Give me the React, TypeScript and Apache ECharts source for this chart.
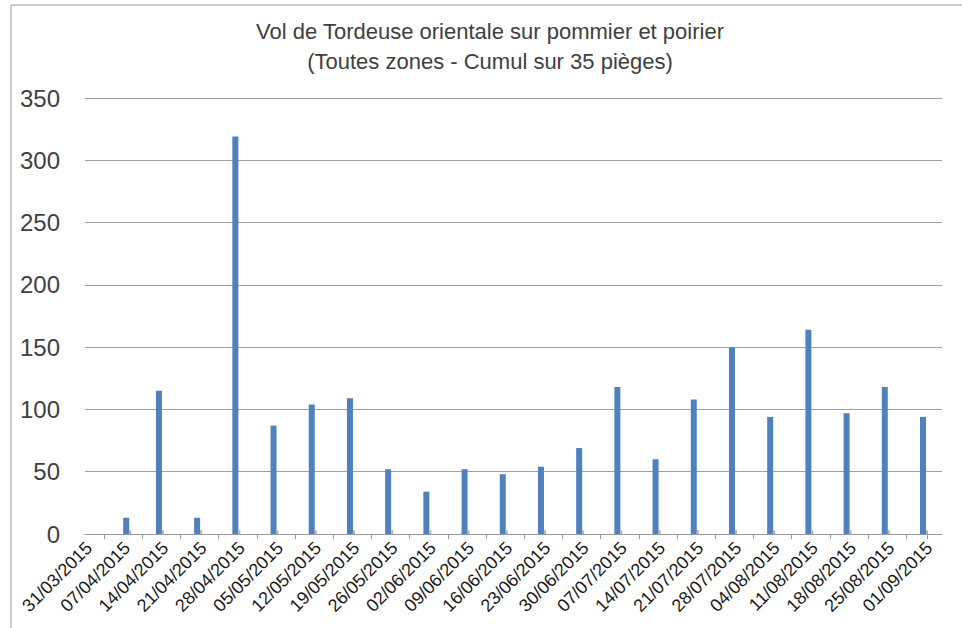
import React, { useEffect, useRef } from "react";
import * as echarts from "echarts";

const titleLine1 = "Vol de Tordeuse orientale sur pommier et poirier";
const titleLine2 = "(Toutes zones - Cumul sur 35 pièges)";

// Sampling dates (dd/mm/yyyy)
const dates = [
  "07/04/2015", "13/04/2015", "20/04/2015", "27/04/2015", "04/05/2015", "11/05/2015",
  "18/05/2015", "25/05/2015", "01/06/2015", "08/06/2015", "15/06/2015", "22/06/2015",
  "29/06/2015", "06/07/2015", "13/07/2015", "20/07/2015", "27/07/2015", "03/08/2015",
  "10/08/2015", "17/08/2015", "24/08/2015", "31/08/2015",
];

// Cumulated catches over 35 traps
const catches = [
  13, 115, 13, 319, 87, 104, 109, 52, 34, 52, 48, 54, 69, 118, 60, 108, 150, 94, 164, 97, 118, 94,
];

// Small grey companion series
const secondary = [
  3, 3, 3, 3, 3, 3, 3, 3, 3, 3, 3, 3, 3, 3, 3, 3, 3, 3, 3, 3, 3, 3,
];

// Axis label dates (weekly)
const tickLabels = [
  "31/03/2015", "07/04/2015", "14/04/2015", "21/04/2015", "28/04/2015", "05/05/2015",
  "12/05/2015", "19/05/2015", "26/05/2015", "02/06/2015", "09/06/2015", "16/06/2015",
  "23/06/2015", "30/06/2015", "07/07/2015", "14/07/2015", "21/07/2015", "28/07/2015",
  "04/08/2015", "11/08/2015", "18/08/2015", "25/08/2015", "01/09/2015",
];

const yTicks = [0, 50, 100, 150, 200, 250, 300, 350];

const DAY = 86400000;
const origin = Date.UTC(2015, 2, 31);
function toDay(s: string): number {
  const [d, m, y] = s.split("/").map(Number);
  return Math.round((Date.UTC(y, m - 1, d) - origin) / DAY);
}
function fmt(day: number): string {
  const dt = new Date(origin + Math.round(day) * DAY);
  const dd = String(dt.getUTCDate()).padStart(2, "0");
  const mm = String(dt.getUTCMonth() + 1).padStart(2, "0");
  return `${dd}/${mm}/${dt.getUTCFullYear()}`;
}

export default function App() {
  const ref = useRef<HTMLDivElement>(null);
  useEffect(() => {
    document.body.style.margin = "0";
    if (!ref.current) return;
    const chart = echarts.init(ref.current, undefined, { renderer: "svg" });
    const labelDays = tickLabels.map(toDay);
    const tickDays = labelDays.slice(0, 22).map((d) => d + 2.75);
    tickDays.push(153.6);
    const font = "'Liberation Sans', Arial, sans-serif";
    chart.setOption({
      animation: false,
      backgroundColor: "#ffffff",
      graphic: [
        {
          type: "rect",
          shape: { x: 11, y: 5, width: 1000, height: 700 },
          style: { fill: "none", stroke: "#9a9a9a", lineWidth: 1 },
          silent: true,
        },
        {
          type: "text",
          x: 490,
          y: 31,
          style: {
            text: titleLine1,
            fill: "#404040",
            font: "normal 22px 'Liberation Sans', sans-serif",
            textAlign: "center",
            textVerticalAlign: "middle",
          },
        },
        {
          type: "text",
          x: 490,
          y: 61,
          style: {
            text: titleLine2,
            fill: "#404040",
            font: "normal 22px 'Liberation Sans', sans-serif",
            textAlign: "center",
            textVerticalAlign: "middle",
          },
        },
      ],
      grid: { left: 85, right: 20, top: 98, bottom: 94, containLabel: false },
      xAxis: {
        type: "value",
        min: -0.73,
        max: 156.3,
        splitLine: { show: false },
        axisLine: { show: true, lineStyle: { color: "#9a9a9a", width: 1 } },
        axisTick: {
          show: true,
          length: 5,
          lineStyle: { color: "#9a9a9a" },
          customValues: tickDays,
        },
        axisLabel: {
          customValues: labelDays,
          rotate: 45,
          margin: 11,
          fontSize: 18,
          color: "#1a1a1a",
          fontFamily: font,
          formatter: (v: number) => fmt(v),
        },
      },
      yAxis: {
        type: "value",
        min: 0,
        max: 350,
        interval: 50,
        axisLine: { show: false },
        axisTick: { show: false },
        splitLine: { show: true, lineStyle: { color: "#a0a0a0", width: 1 } },
        axisLabel: {
          margin: 25,
          fontSize: 24,
          color: "#404040",
          fontFamily: font,
          customValues: yTicks,
        },
      },
      series: [
        {
          type: "bar",
          name: "Tordeuse orientale",
          data: dates.map((d, i) => [toDay(d), catches[i]]),
          barWidth: 6,
          barGap: "0%",
          itemStyle: { color: "#4f81bd" },
        },
        {
          type: "bar",
          name: "Autre",
          data: dates.map((d, i) => [toDay(d), secondary[i]]),
          barWidth: 2,
          barGap: "0%",
          itemStyle: { color: "#b3b3b3" },
        },
      ],
    });
    return () => chart.dispose();
  }, []);
  return <div ref={ref} style={{ width: 962, height: 628 }} />;
}
